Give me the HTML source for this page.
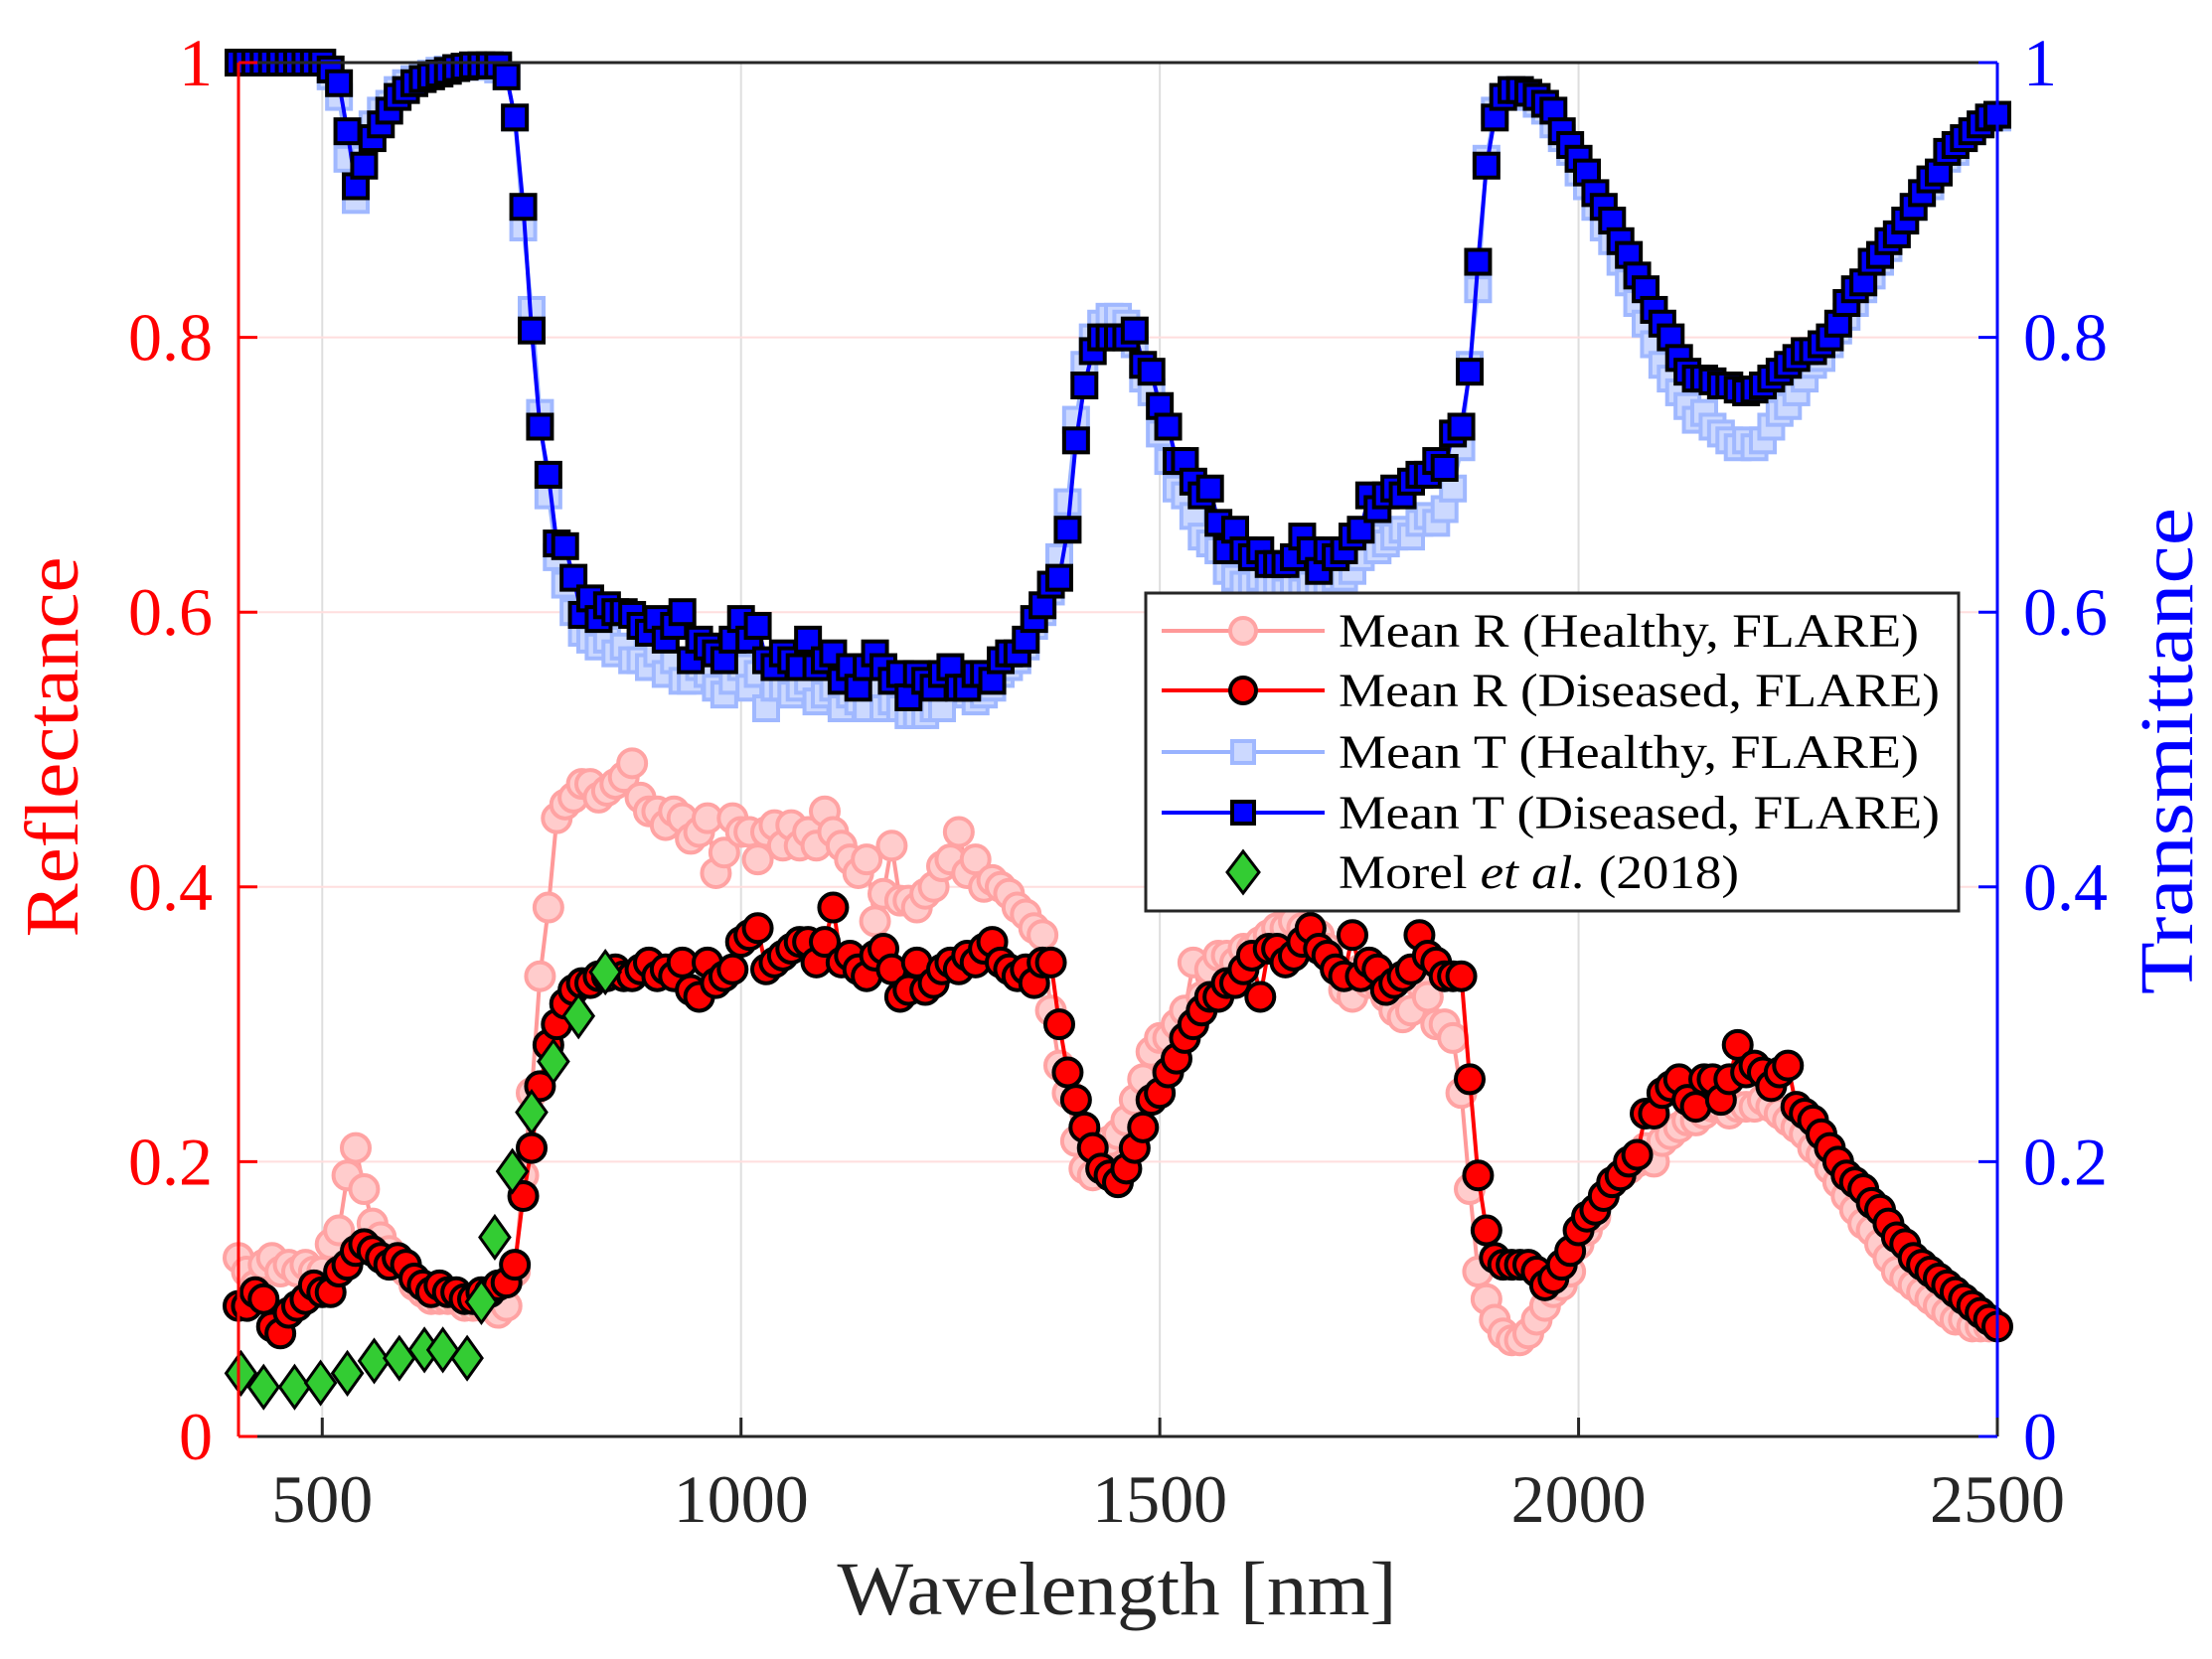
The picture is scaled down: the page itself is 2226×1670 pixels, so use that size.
<!DOCTYPE html>
<html><head><meta charset="utf-8"><title>Reflectance and transmittance of healthy and diseased leaves, 400–2500 nm</title>
<style>
html,body{margin:0;padding:0;background:#fff;}
svg{display:block;font-family:"Liberation Serif","DejaVu Serif",serif;}
</style></head>
<body>
<svg id="chart" width="2226" height="1670" viewBox="0 0 2226 1670" xmlns="http://www.w3.org/2000/svg">
<rect x="0" y="0" width="2226" height="1670" fill="#fff"/>
<g id="grid"></g>
<g id="series"></g>
<g id="axes"></g>
<text x="1124" y="1625" font-size="76" text-anchor="middle" textLength="563" lengthAdjust="spacingAndGlyphs" fill="#262626">Wavelength [nm]</text>
<text transform="translate(78,752) rotate(-90)" font-size="76" text-anchor="middle" textLength="383" lengthAdjust="spacingAndGlyphs" fill="#ff0000">Reflectance</text>
<text transform="translate(2206,756) rotate(-90)" font-size="76" text-anchor="middle" textLength="490" lengthAdjust="spacingAndGlyphs" fill="#0000ff">Transmittance</text>
<g id="legend">
  <rect x="1153" y="597" width="818" height="320" fill="#fff" stroke="#262626" stroke-width="3"/>
  <g>
    <line x1="1169" y1="635" x2="1333" y2="635" stroke="#ff9999" stroke-width="4"/>
    <circle cx="1251" cy="635" r="13" fill="#ffcccc" stroke="#ffa3a3" stroke-width="4"/>
    <text x="1347" y="651" font-size="48" textLength="584" lengthAdjust="spacingAndGlyphs" fill="#000">Mean R (Healthy, FLARE)</text>
  </g>
  <g>
    <line x1="1169" y1="695" x2="1333" y2="695" stroke="#ff0000" stroke-width="4"/>
    <circle cx="1251" cy="695" r="13" fill="#ff0000" stroke="#000" stroke-width="4"/>
    <text x="1347" y="711" font-size="48" textLength="605" lengthAdjust="spacingAndGlyphs" fill="#000">Mean R (Diseased, FLARE)</text>
  </g>
  <g>
    <line x1="1169" y1="757" x2="1333" y2="757" stroke="#99b3ff" stroke-width="4"/>
    <rect x="1240" y="746" width="22" height="22" fill="#ccd9ff" stroke="#a0b8ff" stroke-width="4"/>
    <text x="1347" y="773" font-size="48" textLength="584" lengthAdjust="spacingAndGlyphs" fill="#000">Mean T (Healthy, FLARE)</text>
  </g>
  <g>
    <line x1="1169" y1="818" x2="1333" y2="818" stroke="#0000ff" stroke-width="4"/>
    <rect x="1240" y="807" width="22" height="22" fill="#0000ff" stroke="#000" stroke-width="4"/>
    <text x="1347" y="834" font-size="48" textLength="605" lengthAdjust="spacingAndGlyphs" fill="#000">Mean T (Diseased, FLARE)</text>
  </g>
  <g>
    <polygon points="1251,857 1267,878 1251,899 1235,878" fill="#33cc33" stroke="#000" stroke-width="3"/>
    <text x="1347" y="894" font-size="48" textLength="403" lengthAdjust="spacingAndGlyphs" fill="#000">Morel <tspan font-style="italic">et al.</tspan> (2018)</text>
  </g>
</g>
</svg>
<script>
const rHealthy = [.13,.12,.11,.125,.13,.12,.125,.12,.125,.12,
.12,.14,.15,.19,.21,.18,.155,.145,.135,.125,
.12,.11,.105,.10,.10,.10,.10,.095,.095,.095,
.095,.09,.095,.12,.19,.25,.335,.385,.45,.46,
.465,.475,.475,.465,.47,.475,.48,.49,.465,.455,
.455,.445,.455,.45,.435,.44,.45,.41,.425,.45,
.44,.44,.42,.44,.445,.43,.445,.43,.44,.43,
.455,.44,.43,.42,.41,.42,.375,.395,.43,.39,
.39,.385,.395,.40,.415,.42,.44,.41,.42,.40,
.405,.40,.395,.385,.38,.37,.365,.31,.27,.25,
.215,.195,.19,.205,.215,.22,.23,.245,.26,.28,
.29,.29,.30,.31,.345,.32,.34,.35,.35,.345,
.355,.355,.36,.365,.37,.37,.375,.37,.37,.365,
.355,.34,.325,.32,.34,.33,.33,.32,.31,.305,
.31,.33,.32,.30,.30,.29,.25,.18,.12,.10,
.085,.075,.07,.07,.075,.085,.095,.105,.11,.12,
.14,.15,.16,.175,.185,.19,.195,.20,.21,.20,
.215,.22,.225,.23,.23,.235,.24,.24,.235,.24,
.24,.24,.245,.24,.235,.23,.225,.22,.21,.205,
.195,.185,.175,.165,.155,.15,.14,.13,.12,.115,
.11,.105,.10,.095,.09,.085,.085,.08,.08,.08,
.08];
const rDiseased = [.095,.095,.105,.10,.08,.075,.09,.095,.10,.11,
.105,.105,.12,.125,.135,.14,.135,.13,.125,.13,
.125,.115,.11,.105,.11,.105,.105,.10,.10,.105,
.105,.11,.112,.125,.175,.21,.255,.285,.30,.315,
.325,.33,.33,.335,.335,.34,.335,.335,.34,.345,
.335,.34,.335,.345,.325,.32,.345,.33,.335,.34,
.36,.365,.37,.34,.345,.35,.355,.36,.36,.345,
.36,.385,.345,.35,.34,.335,.35,.355,.34,.32,
.325,.345,.325,.33,.34,.345,.34,.35,.345,.355,
.36,.345,.34,.335,.34,.33,.345,.345,.30,.265,
.245,.225,.21,.195,.19,.185,.195,.21,.225,.245,
.25,.265,.275,.29,.30,.31,.32,.32,.33,.33,
.34,.35,.32,.355,.355,.345,.35,.36,.37,.355,
.35,.34,.335,.365,.335,.345,.34,.325,.33,.335,
.34,.365,.35,.345,.335,.335,.335,.26,.19,.15,
.13,.125,.125,.125,.125,.12,.11,.115,.125,.135,
.15,.16,.165,.175,.185,.19,.20,.205,.235,.235,
.25,.255,.26,.245,.24,.26,.26,.245,.26,.285,
.265,.27,.265,.255,.265,.27,.24,.235,.23,.22,
.21,.20,.19,.185,.18,.17,.165,.155,.145,.14,
.13,.125,.12,.115,.11,.105,.10,.095,.09,.085,
.08];
const tHealthy = [1,1,1,1,1,1,1,1,1,1,
1,.99,.975,.93,.90,.93,.955,.965,.97,.98,
.985,.988,.99,.992,.994,.995,.996,.997,.997,.997,
.997,.995,.99,.96,.88,.82,.745,.685,.64,.62,
.60,.585,.58,.575,.58,.57,.575,.565,.565,.56,
.57,.555,.565,.55,.55,.56,.555,.545,.54,.55,
.56,.545,.555,.53,.545,.545,.54,.545,.55,.535,
.54,.545,.53,.54,.535,.53,.545,.53,.535,.53,
.525,.525,.525,.53,.53,.545,.555,.54,.535,.54,
.545,.555,.56,.565,.575,.59,.60,.615,.64,.68,
.74,.78,.80,.81,.815,.815,.81,.795,.77,.76,
.73,.71,.69,.685,.67,.655,.65,.645,.63,.625,
.62,.62,.625,.62,.62,.615,.62,.615,.62,.62,
.62,.625,.625,.63,.64,.655,.645,.65,.655,.66,
.655,.665,.67,.665,.675,.69,.72,.78,.835,.93,
.965,.975,.98,.98,.975,.97,.965,.955,.945,.935,
.92,.91,.895,.88,.87,.855,.84,.825,.81,.795,
.78,.77,.76,.75,.74,.745,.735,.73,.725,.72,
.725,.72,.725,.735,.745,.75,.76,.77,.78,.785,
.795,.805,.815,.825,.835,.845,.855,.865,.875,.885,
.895,.905,.91,.92,.93,.935,.945,.95,.955,.96,
.96];
const tDiseased = [1,1,1,1,1,1,1,1,1,1,
1,.995,.985,.95,.91,.925,.945,.955,.965,.975,
.98,.985,.988,.99,.992,.994,.996,.997,.998,.998,
.998,.998,.99,.96,.895,.805,.735,.70,.65,.648,
.625,.598,.61,.595,.605,.60,.60,.598,.59,.585,
.595,.58,.59,.60,.565,.58,.575,.57,.565,.58,
.595,.58,.59,.565,.56,.57,.565,.56,.58,.56,
.565,.57,.55,.56,.545,.56,.57,.56,.55,.555,
.538,.555,.55,.545,.555,.56,.545,.545,.555,.555,
.55,.565,.57,.57,.58,.595,.605,.62,.625,.66,
.725,.765,.79,.80,.80,.80,.80,.805,.78,.775,
.75,.735,.71,.71,.695,.685,.69,.665,.645,.66,
.645,.64,.645,.635,.635,.635,.64,.655,.645,.63,
.645,.64,.645,.655,.66,.685,.675,.685,.69,.685,
.695,.70,.70,.71,.705,.73,.735,.775,.855,.925,
.96,.975,.98,.98,.978,.975,.97,.965,.95,.94,
.93,.92,.905,.895,.885,.87,.86,.845,.835,.82,
.81,.80,.785,.775,.77,.77,.768,.765,.765,.762,
.76,.762,.765,.77,.775,.78,.785,.79,.79,.795,
.80,.81,.825,.835,.84,.855,.86,.87,.875,.885,
.895,.905,.915,.92,.935,.94,.945,.95,.955,.96,
.962];
const morelWl = [403,430,467,498,530,562,592,622,644,673,690,706,727,750,776,806,838];
const morelR = [.046,.036,.036,.039,.046,.055,.057,.063,.063,.057,.098,.145,.193,.236,.273,.306,.338];
const xTicks = [500,1000,1500,2000,2500];
const yTicks = [0,0.2,0.4,0.6,0.8,1];
const yTickLabels = ["0","0.2","0.4","0.6","0.8","1"];
const wlStart = 400, wlStep = 10;

const NS = "http://www.w3.org/2000/svg";
const L = 240, R = 2010, T = 63, B = 1446;
function px(w){ return L + (w - 400) / 2100 * (R - L); }
function py(v){ return B - v * (B - T); }
function mk(tag, attrs, parent){
  const e = document.createElementNS(NS, tag);
  for (const k in attrs) e.setAttribute(k, attrs[k]);
  parent.appendChild(e);
  return e;
}
const grid = document.getElementById('grid');
const series = document.getElementById('series');
const axes = document.getElementById('axes');

xTicks.forEach(function(t){
  if (t >= 2500) return;
  const g = mk('line', {x1: px(t), x2: px(t), y1: T, y2: B, stroke: '#dedede', 'stroke-width': 2}, grid);
  
  
});
yTicks.forEach(function(t){
  if (t <= 0 || t >= 1) return;
  const g = mk('line', {x1: L, x2: R, y1: py(t), y2: py(t), stroke: '#ffdede', 'stroke-width': 2}, grid);
  
  
});

function wl(i){ return wlStart + i * wlStep; }
function drawLine(vals, color, name){
  const pts = vals.map(function(v, i){ return px(wl(i)).toFixed(1) + ',' + py(v).toFixed(1); }).join(' ');
  const pl = mk('polyline', {points: pts, fill: 'none', stroke: color, 'stroke-width': 4, 'stroke-linejoin': 'round'}, series);
  
  
}
function drawCircles(vals, fill, stroke, name){
  const g = mk('g', {}, series);
  
  
  vals.forEach(function(v, i){
    const c = mk('circle', {cx: px(wl(i)), cy: py(v), r: 14, fill: fill, stroke: stroke, 'stroke-width': 4}, g);
    
    
  });
}
function drawSquares(vals, fill, stroke, name){
  const g = mk('g', {}, series);
  
  
  vals.forEach(function(v, i){
    const s = mk('rect', {x: px(wl(i)) - 12, y: py(v) - 12, width: 24, height: 24, fill: fill, stroke: stroke, 'stroke-width': 4}, g);
    
    
  });
}
drawLine(rHealthy, '#ff9999', 'r-healthy-line');
drawCircles(rHealthy, '#ffcccc', '#ffa3a3', 'r-healthy-markers');
drawLine(rDiseased, '#ff0000', 'r-diseased-line');
drawCircles(rDiseased, '#ff0000', '#000', 'r-diseased-markers');
drawLine(tHealthy, '#99b3ff', 't-healthy-line');
drawSquares(tHealthy, '#ccd9ff', '#a0b8ff', 't-healthy-markers');
drawLine(tDiseased, '#0000ff', 't-diseased-line');
drawSquares(tDiseased, '#0000ff', '#000', 't-diseased-markers');
const mg = mk('g', {}, series);


morelWl.forEach(function(w, i){
  const x = px(w), y = py(morelR[i]);
  const d = mk('polygon', {points: x + ',' + (y - 21) + ' ' + (x + 15) + ',' + y + ' ' + x + ',' + (y + 21) + ' ' + (x - 15) + ',' + y, fill: '#33cc33', stroke: '#000', 'stroke-width': 3}, mg);
  
  
});

let a;
a = mk('line', {x1: L, x2: R, y1: T, y2: T, stroke: '#262626', 'stroke-width': 3}, axes);


a = mk('line', {x1: L, x2: R, y1: B, y2: B, stroke: '#262626', 'stroke-width': 3}, axes);


a = mk('line', {x1: L, x2: L, y1: T, y2: B, stroke: '#ff0000', 'stroke-width': 3}, axes);


a = mk('line', {x1: R, x2: R, y1: T, y2: B, stroke: '#0000ff', 'stroke-width': 3}, axes);



xTicks.forEach(function(t){
  const tk = mk('line', {x1: px(t), x2: px(t), y1: B, y2: B - 19, stroke: '#262626', 'stroke-width': 3}, axes);
  
  
  const lb = mk('text', {x: px(t), y: 1532, 'font-size': 68, 'text-anchor': 'middle', fill: '#262626'}, axes);
  lb.textContent = String(t);
  
  
});
yTicks.forEach(function(t, i){
  const y = py(t);
  const tl = mk('line', {x1: L, x2: L + 19, y1: y, y2: y, stroke: '#ff0000', 'stroke-width': 3}, axes);
  
  
  const tr = mk('line', {x1: R, x2: R - 19, y1: y, y2: y, stroke: '#0000ff', 'stroke-width': 3}, axes);
  
  
  const ll = mk('text', {x: 214, y: y + 23, 'font-size': 68, 'text-anchor': 'end', fill: '#ff0000'}, axes);
  ll.textContent = yTickLabels[i];
  
  
  const rl = mk('text', {x: 2036, y: y + 23, 'font-size': 68, 'text-anchor': 'start', fill: '#0000ff'}, axes);
  rl.textContent = yTickLabels[i];
  
  
});
</script>
</body></html>
